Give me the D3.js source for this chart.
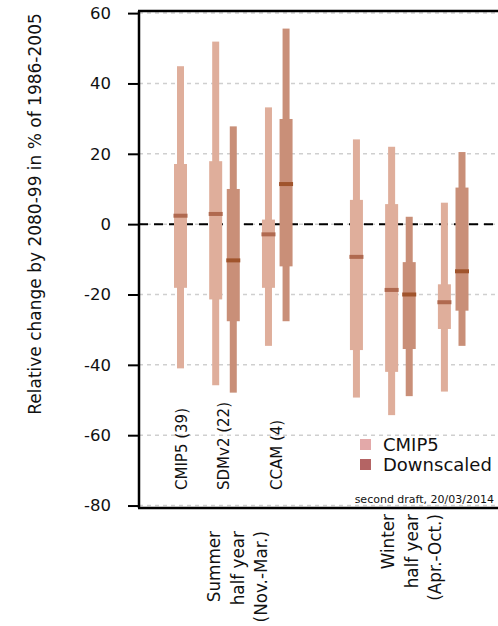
<!DOCTYPE html>
<html>
<head>
<meta charset="utf-8">
<script src="https://d3js.org/d3.v7.min.js"></script>
<style>
  body { margin: 0; background: #fff; }
  text { font-family: "DejaVu Sans", sans-serif; fill: #111; }
</style>
</head>
<body>
<svg id="chart" width="498" height="626"></svg>
<script>
  // box statistics (% change)
  var positions = [1, 2, 2.5, 3.5, 4, 6, 7, 7.5, 8.5, 9]; // slot on the x axis
  var kinds = ["cmip", "cmip", "down", "cmip", "down", "cmip", "cmip", "down", "cmip", "down"];
  var whiskerLow = [-41, -45.8, -47.9, -34.6, -27.6, -49.3, -54.3, -48.9, -47.6, -34.6];
  var boxLow = [-18.1, -21.4, -27.6, -18.1, -12, -35.8, -42, -35.5, -29.8, -24.6];
  var medians = [2.4, 2.9, -10.3, -2.9, 11.4, -9.3, -18.7, -20, -22.2, -13.4];
  var boxHigh = [17.1, 17.9, 10, 1.3, 29.9, 6.9, 5.7, -10.8, -17.1, 10.4];
  var whiskerHigh = [44.9, 51.9, 27.8, 33.2, 55.6, 24.1, 22, 2.1, 6.1, 20.5];

  var yTicks = [60, 40, 20, 0, -20, -40, -60, -80];
  var modelLabels = ["CMIP5 (39)", "SDMv2 (22)", "CCAM (4)"];
  var modelPos = [1, 2.2, 3.7];
  var seasonLines = [["Summer", "half year", "(Nov.-Mar.)"], ["Winter", "half year", "(Apr.-Oct.)"]];
  var legendLabels = ["CMIP5", "Downscaled"];

  var colors = { cmip: "#dfae9b", down: "#c98f78" };
  var medColors = { cmip: "#b0694f", down: "#a0542c" };
  var legendColors = ["#e3a9a9", "#b46464"];

  var svg = d3.select("#chart");
  var plotLeft = 139, plotTop = 11, plotBottom = 508, plotRight = 520;

  var y = d3.scaleLinear().domain([-80.7, 60.6]).range([plotBottom, plotTop]);
  var x = d3.scaleLinear().domain([1, 9]).range([180.5, 462]);

  // grid
  svg.append("g").selectAll("line").data(yTicks).enter().append("line")
    .attr("x1", plotLeft).attr("x2", plotRight)
    .attr("y1", d => y(d)).attr("y2", d => y(d))
    .attr("stroke", "#cfcfcf").attr("stroke-width", 1.5)
    .attr("stroke-dasharray", "4,4");

  // zero line
  svg.append("line")
    .attr("x1", plotLeft).attr("x2", plotRight)
    .attr("y1", y(0)).attr("y2", y(0))
    .attr("stroke", "#000").attr("stroke-width", 2)
    .attr("stroke-dasharray", "9,6");

  var boxes = svg.append("g").selectAll("g").data(positions).enter().append("g");

  boxes.append("rect")
    .attr("x", d => x(d) - 3.5).attr("width", 7)
    .attr("y", (d, i) => y(whiskerHigh[i]))
    .attr("height", (d, i) => y(whiskerLow[i]) - y(whiskerHigh[i]))
    .attr("fill", (d, i) => colors[kinds[i]]);

  boxes.append("rect")
    .attr("x", d => x(d) - 6.5).attr("width", 13)
    .attr("y", (d, i) => y(boxHigh[i]))
    .attr("height", (d, i) => y(boxLow[i]) - y(boxHigh[i]))
    .attr("fill", (d, i) => colors[kinds[i]]);

  boxes.append("rect")
    .attr("x", d => x(d) - 7).attr("width", 14)
    .attr("y", (d, i) => y(medians[i]) - 2)
    .attr("height", 4)
    .attr("fill", (d, i) => medColors[kinds[i]]);

  // frame
  svg.append("line").attr("x1", plotLeft).attr("x2", plotLeft).attr("y1", plotTop).attr("y2", plotBottom)
    .attr("stroke", "#000").attr("stroke-width", 2.5);
  svg.append("line").attr("x1", plotLeft - 1).attr("x2", plotRight).attr("y1", plotTop).attr("y2", plotTop)
    .attr("stroke", "#000").attr("stroke-width", 2.5);
  svg.append("line").attr("x1", plotLeft - 1).attr("x2", plotRight).attr("y1", plotBottom).attr("y2", plotBottom)
    .attr("stroke", "#000").attr("stroke-width", 2.5);

  // y axis
  var axis = svg.append("g").attr("transform", "translate(" + plotLeft + ",0)")
    .call(d3.axisLeft(y).tickValues(yTicks).tickSize(11).tickPadding(17).tickFormat(d => String(d)));
  axis.select(".domain").remove();
  axis.selectAll(".tick line").attr("stroke", "#000").attr("stroke-width", 2);
  axis.selectAll(".tick text").attr("font-size", 16.5).attr("font-family", "DejaVu Sans").attr("fill", "#111");

  svg.append("text")
    .attr("transform", "translate(41,214) rotate(-90)")
    .attr("text-anchor", "middle")
    .attr("font-size", 17)
    .text("Relative change by 2080-99 in % of 1986-2005");

  // model labels
  svg.selectAll(".mlab").data(modelLabels).enter().append("text")
    .attr("transform", (d, i) => "translate(" + (x(modelPos[i]) + 6) + ",490) rotate(-90)")
    .attr("font-size", 15)
    .text(d => d);

  // season labels
  var seasonX = [214, 388];
  var seasonTop = [531, 514];
  seasonLines.forEach(function(lines, s) {
    lines.forEach(function(t, j) {
      svg.append("text")
        .attr("transform", "translate(" + (seasonX[s] + j * 23.5 + 6) + "," + seasonTop[s] + ") rotate(-90)")
        .attr("text-anchor", "end")
        .attr("font-size", 16.8)
        .text(t);
    });
  });

  // legend
  var leg = svg.append("g").selectAll("g").data(legendLabels).enter().append("g")
    .attr("transform", (d, i) => "translate(360," + (439 + i * 20) + ")");
  leg.append("rect").attr("width", 11).attr("height", 11).attr("fill", (d, i) => legendColors[i]);
  leg.append("text").attr("x", 23).attr("y", 12).attr("font-size", 18).text(d => d);

  svg.append("text")
    .attr("x", 494).attr("y", 502.5)
    .attr("text-anchor", "end")
    .attr("font-size", 11)
    .text("second draft, 20/03/2014");
</script>
</body>
</html>
